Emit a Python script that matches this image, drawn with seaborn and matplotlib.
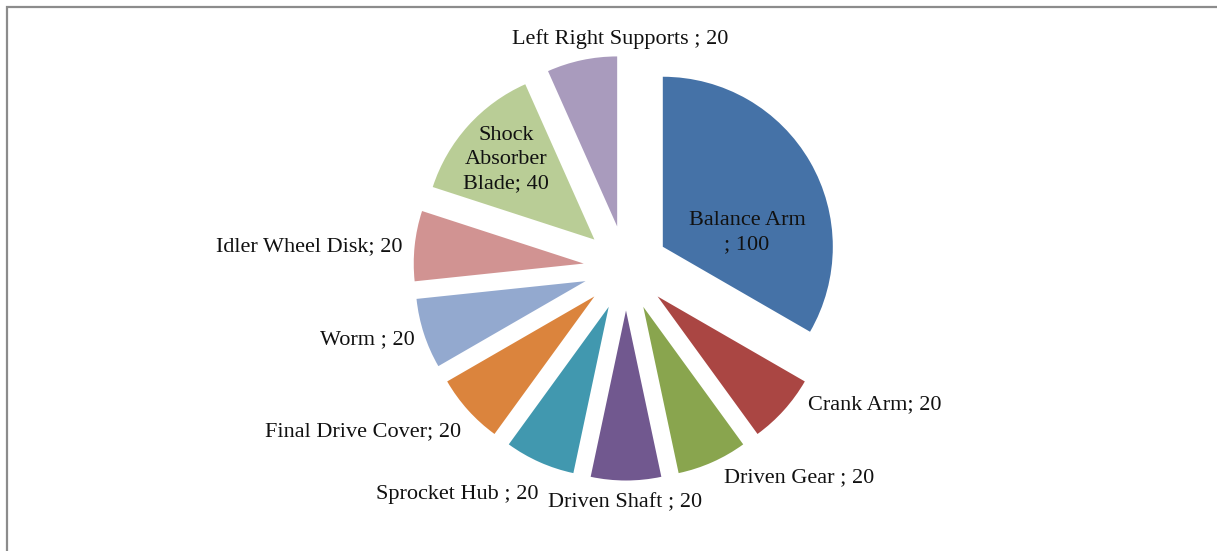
import matplotlib
matplotlib.use("Agg")
import matplotlib.pyplot as plt
import seaborn as sns
from matplotlib.patches import Rectangle

# Parts and their counts, clockwise from 12 o'clock
parts = ["Balance Arm ", "Crank Arm", "Driven Gear ", "Driven Shaft ", "Sprocket Hub ",
         "Final Drive Cover", "Worm ", "Idler Wheel Disk", "Shock Absorber Blade",
         "Left Right Supports "]
counts = [100, 20, 20, 20, 20, 20, 20, 20, 40, 20]

colors = ["#4572A7", "#AA4643", "#89A54E", "#71588F", "#4198AF",
          "#DB843D", "#93A9CF", "#D19392", "#B9CD96", "#A99BBD"]

sns.set_theme(style="white")
plt.rcParams["font.family"] = ["Liberation Serif", "DejaVu Serif"]

W, H, DPI = 1217, 551, 100
fig = plt.figure(figsize=(W / DPI, H / DPI), dpi=DPI)
ax = fig.add_axes([0, 0, 1, 1])

R_PX = 170.0          # pie radius in pixels
CX, CY = 626.0, 268.0  # pie centre in pixels (from top-left)

wedges, _ = ax.pie(counts, colors=sns.color_palette(colors), startangle=90,
                   counterclock=False, explode=[0.25] * len(counts), radius=1,
                   center=(0, 0), wedgeprops=dict(linewidth=0))

ax.set_aspect("auto")
ax.set_xlim(-CX / R_PX, (W - CX) / R_PX)
ax.set_ylim(-(H - CY) / R_PX, CY / R_PX)
ax.axis("off")


def label_text(name, val):
    return f"{name}; {val}"


texts = [label_text(p, c) for p, c in zip(parts, counts)]
texts[0] = "Balance Arm\n; " + str(counts[0])
texts[8] = "Shock\nAbsorber\nBlade; " + str(counts[8])

# label anchors (pixel coords) and alignment
anchors = [
    (747, 233, "center"),
    (808, 405, "left"),
    (724, 478, "left"),
    (625, 503, "center"),
    (538, 494, "right"),
    (461, 432, "right"),
    (415, 340, "right"),
    (403, 247, "right"),
    (506, 160, "center"),
    (620, 39, "center"),
]

for t, (px, py, ha) in zip(texts, anchors):
    ax.text((px - CX) / R_PX, (CY - py) / R_PX, t, ha=ha, va="center",
            multialignment="center", fontsize=16, color="#111111",
            linespacing=1.36)

# chart frame (top and left edges visible)
fig.patches.append(Rectangle((6.5 / W, -0.1), 1.2, 1.1 - 6.5 / H,
                             transform=fig.transFigure, fill=False,
                             edgecolor="#8c8c8c", linewidth=1.6))

fig.savefig("out.png", dpi=DPI)
